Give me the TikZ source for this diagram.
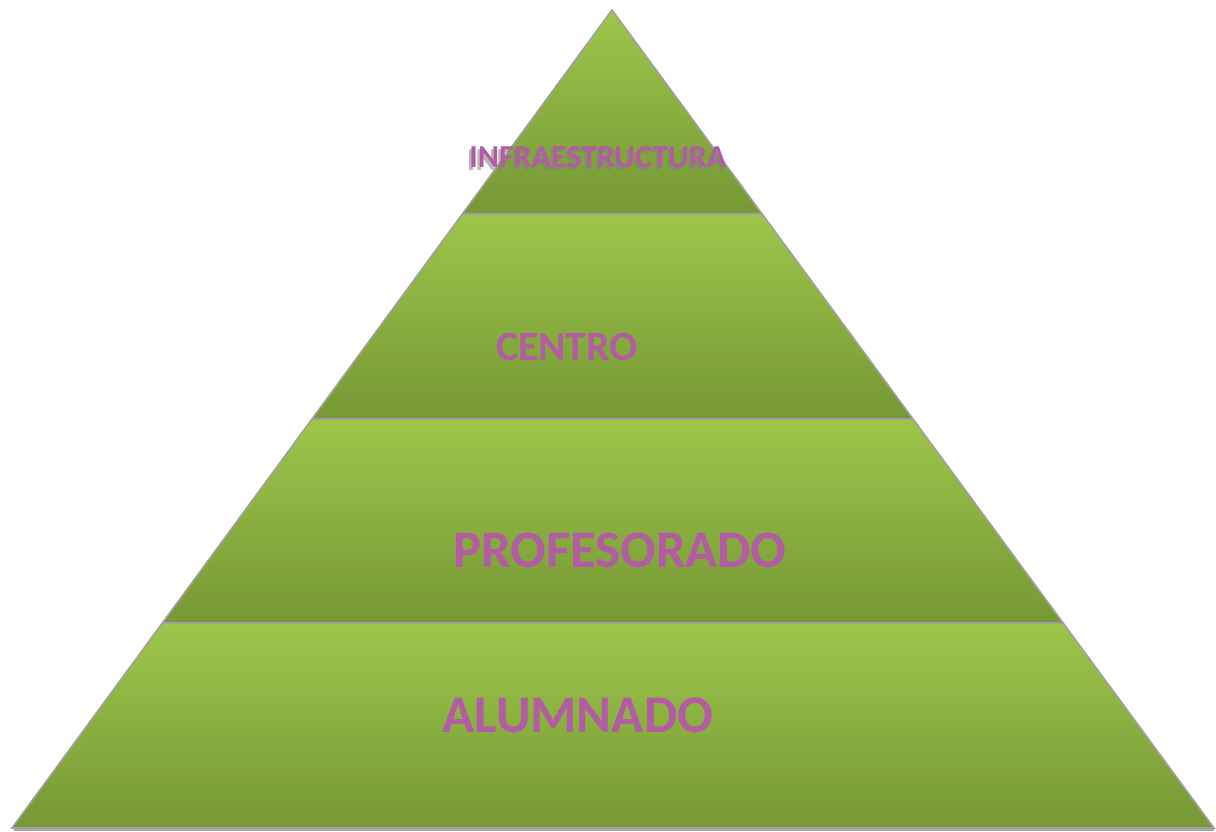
\documentclass[tikz,border=0pt]{standalone}
\usepackage{fontspec}
\setmainfont{Carlito}
\definecolor{gtop}{RGB}{157,198,74}
\definecolor{gbot}{RGB}{118,152,53}
\definecolor{edge}{RGB}{160,160,160}
\definecolor{txt}{RGB}{179,91,163}
\begin{document}
\begin{tikzpicture}[x=1pt,y=-1pt,
  layer/.style={top color=gtop,bottom color=gbot},
  sep/.style={draw=edge,line width=2.2pt},
  lbl/.style={text=txt,font=\bfseries,inner sep=0pt},
  shd/.style={text=gray,opacity=0.55,font=\bfseries,inner sep=0pt}]
\useasboundingbox (0,0) rectangle (1216,832);
\coordinate (apex) at (612,10);
\coordinate (bl) at (12,828);
\coordinate (br) at (1214,828);
\coordinate (l1) at (462.4,214); \coordinate (r1) at (762.1,214);
\coordinate (l2) at (312.1,419); \coordinate (r2) at (913.0,419);
\coordinate (l3) at (162.3,623); \coordinate (r3) at (1063.0,623);
% base shadow
\fill[gray!70] (14,828) rectangle (1214,831);
% layers
\shade[layer] (apex) -- (r1) -- (l1) -- cycle;
\shade[layer] (l1) -- (r1) -- (r2) -- (l2) -- cycle;
\shade[layer] (l2) -- (r2) -- (r3) -- (l3) -- cycle;
\shade[layer] (l3) -- (r3) -- (br) -- (bl) -- cycle;
% outline and separators
\draw[draw=edge,line width=1.6pt,line join=miter] (apex) -- (br) -- (bl) -- cycle;
\draw[sep] (l1) -- (r1);
\draw[sep] (l2) -- (r2);
\draw[sep] (l3) -- (r3);
% labels
\node[shd,font=\bfseries\fontsize{32}{32}\selectfont] (infs) at (595.5,160) {INFRAESTRUCTURA};
\node[lbl,font=\bfseries\fontsize{32}{32}\selectfont] (infra) at (598,157) {INFRAESTRUCTURA};
\node[lbl,font=\bfseries\fontsize{41.6}{41.6}\selectfont] (centro) at (567,347) {CENTRO};
\node[lbl,font=\bfseries\fontsize{52.7}{52.7}\selectfont] (prof) at (620,550) {PROFESORADO};
\node[lbl,font=\bfseries\fontsize{53}{53}\selectfont] (alum) at (578,715) {ALUMNADO};
\end{tikzpicture}
\end{document}
